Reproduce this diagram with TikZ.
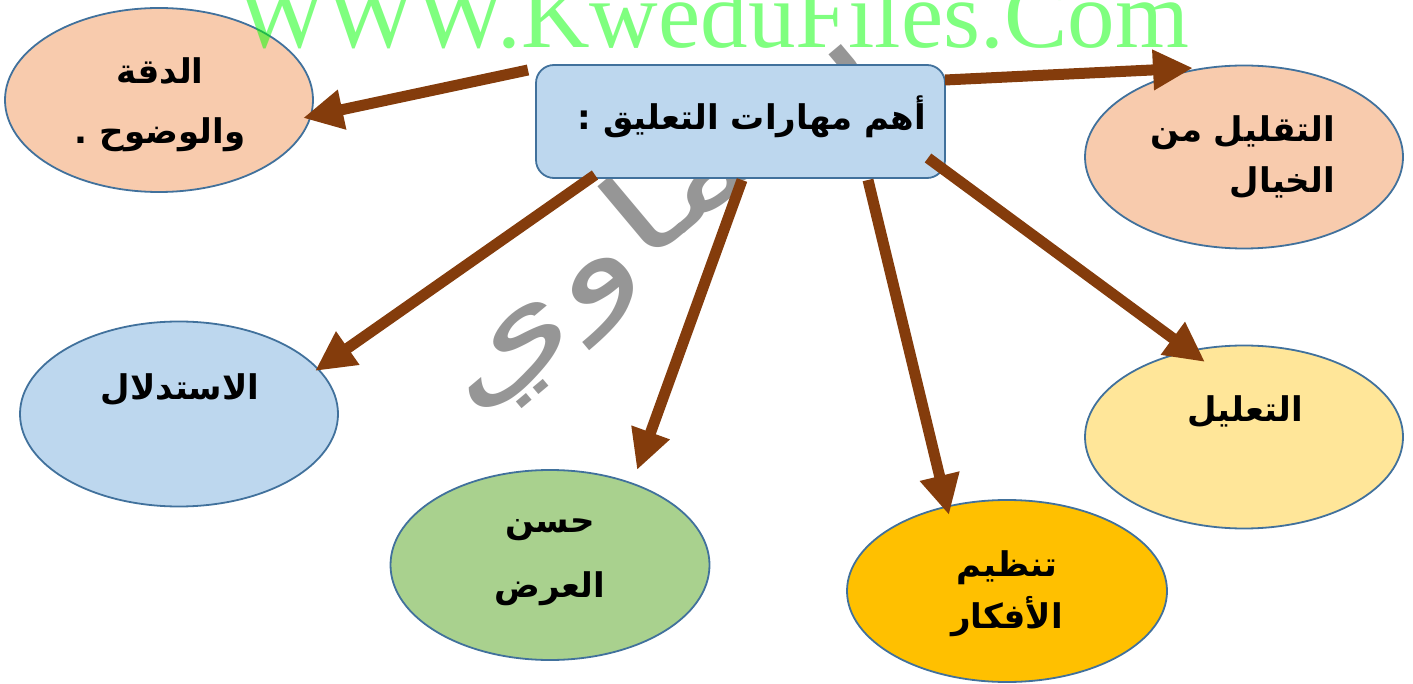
\documentclass[tikz,border=0pt]{standalone}
\usepackage{fontspec}
\setmainfont{DejaVu Sans}
\newfontfamily\arabicfont[Script=Arabic]{DejaVu Sans}
\newfontfamily\wmfont{Liberation Serif}
\TeXXeTstate=1
\usetikzlibrary{arrows.meta,shapes.geometric}
\definecolor{hdrblue}{HTML}{BDD7EE}
\definecolor{edgeblue}{HTML}{41719C}
\definecolor{peach}{HTML}{F8CBAD}
\definecolor{lgreen}{HTML}{A9D18E}
\definecolor{gold}{HTML}{FFC000}
\definecolor{lyellow}{HTML}{FFE699}
\definecolor{brownarrow}{HTML}{843C0C}
\definecolor{wmgrey}{HTML}{969696}
\tikzset{
  bubble/.style={ellipse, draw=edgeblue, line width=1.8pt, inner sep=0pt},
  hdrbox/.style={rectangle, rounded corners=18pt, draw=edgeblue, line width=1.8pt, fill=hdrblue, inner sep=0pt, minimum width=409pt, minimum height=113pt},
  artxt/.style={font=\arabicfont\bfseries\fontsize{34}{60}\selectfont, inner sep=0pt},
  arr/.style={draw=brownarrow, line width=11pt, -{Triangle[length=40pt,width=38pt]}},
}
\begin{document}
\begin{tikzpicture}[x=1pt,y=-1pt]
\useasboundingbox (0,0) rectangle (1413,684);
\clip (0,0) rectangle (1413,684);
% grey handwritten watermark (behind)
\node[rotate=40, text=wmgrey, font=\arabicfont\fontsize{100}{100}\selectfont, inner sep=0pt] (wmb) at (655,218) {\scalebox{1.8}[1.2]{\beginR سماوي\endR}};
% ellipses
\node[bubble, fill=peach, minimum width=308pt, minimum height=184pt] (dq) at (159,100) {};
\node[bubble, fill=peach, minimum width=318pt, minimum height=183pt] (tq) at (1244,157) {};
\node[bubble, fill=hdrblue, minimum width=318pt, minimum height=185pt] (is) at (179,414) {};
\node[bubble, fill=lgreen, minimum width=319pt, minimum height=190pt] (hs) at (550,565) {};
\node[bubble, fill=gold, minimum width=320pt, minimum height=182pt] (tn) at (1007,591) {};
\node[bubble, fill=lyellow, minimum width=318pt, minimum height=183pt] (tl) at (1244,437) {};
% header box
\node[hdrbox] (hdr) at (740.5,121.5) {};
\node[artxt, font=\arabicfont\bfseries\fontsize{34}{40}\selectfont] (hdrt) at (752,117) {\beginR أهم مهارات التعليق :\endR};
% texts
\node[artxt, align=center] (dqt) at (160,105) {\beginR الدقة\endR\\\beginR والوضوح .\endR};
\node[artxt, align=right, anchor=east, font=\arabicfont\bfseries\fontsize{34}{51}\selectfont] (tqt) at (1335,157) {\beginR التقليل من\endR\\\beginR الخيال\endR};
\node[artxt] (ist) at (180,390) {\beginR الاستدلال\endR};
\node[artxt, align=center, font=\arabicfont\bfseries\fontsize{34}{65}\selectfont] (hst) at (550,562) {\beginR حسن\endR\\\beginR العرض\endR};
\node[artxt, align=center, font=\arabicfont\bfseries\fontsize{34}{52}\selectfont] (tnt) at (1007,594) {\beginR تنظيم\endR\\\beginR الأفكار\endR};
\node[artxt] (tlt) at (1245,412) {\beginR التعليل\endR};
% arrow anchors
\coordinate (s1) at (528,70);  \coordinate (e1) at (303,118);
\coordinate (s2) at (945,80);  \coordinate (e2) at (1193,68);
\coordinate (s3) at (595,175); \coordinate (e3) at (315,371);
\coordinate (s4) at (742,180); \coordinate (e4) at (637,470);
\coordinate (s5) at (868,180); \coordinate (e5) at (949,515);
\coordinate (s6) at (928,158); \coordinate (e6) at (1205,362);
\draw[arr] (s1) -- (e1);
\draw[arr] (s2) -- (e2);
\draw[arr] (s3) -- (e3);
\draw[arr] (s4) -- (e4);
\draw[arr] (s5) -- (e5);
\draw[arr] (s6) -- (e6);
% green watermark
\node[anchor=base west, text=green, text opacity=0.5, font=\wmfont\fontsize{95}{95}\selectfont, inner sep=0pt] (wmg) at (237,48) {WWW.KweduFiles.Com};
\end{tikzpicture}
\end{document}
